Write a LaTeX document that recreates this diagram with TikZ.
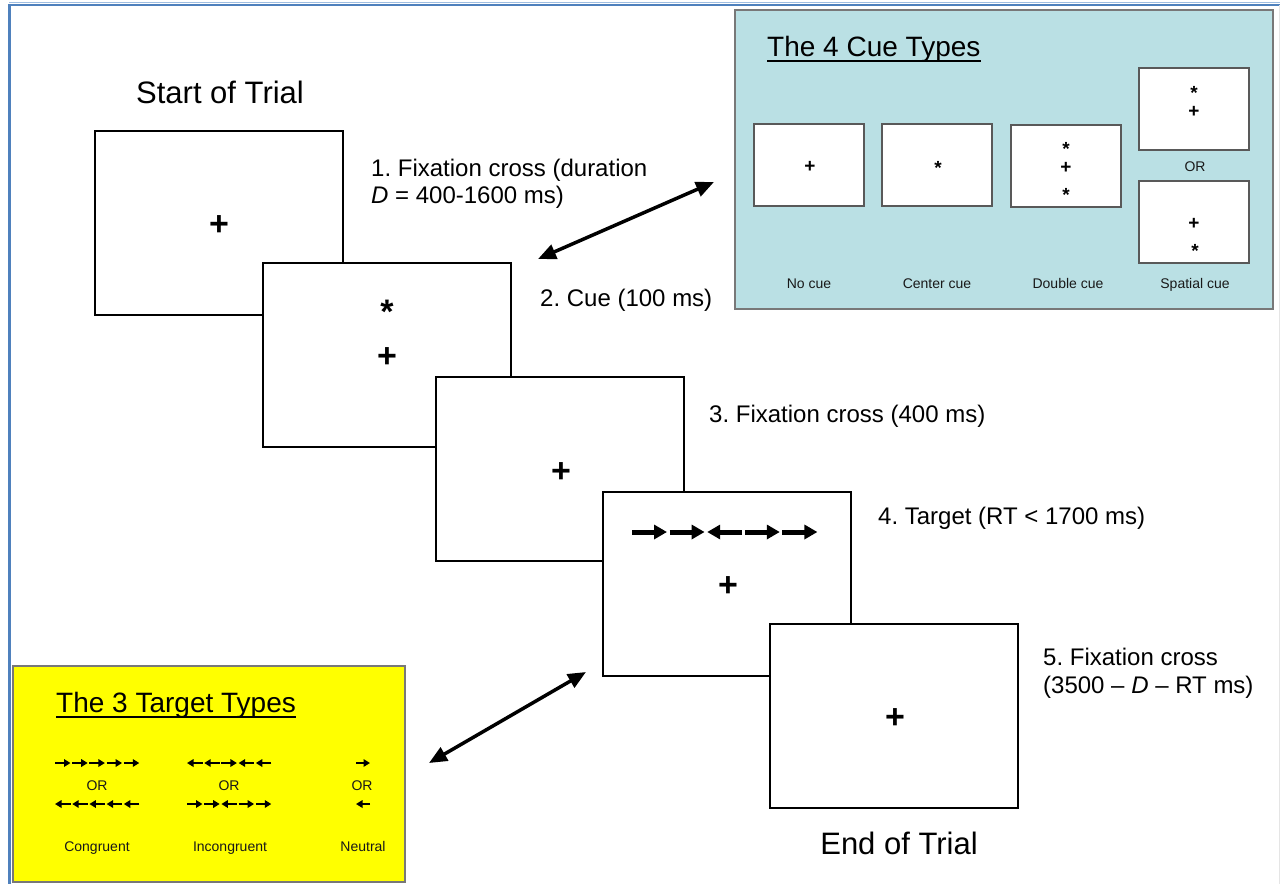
\documentclass[tikz,border=0pt]{standalone}
\usepackage{fontspec}
\setmainfont{Liberation Sans}
\usetikzlibrary{arrows.meta}
\frenchspacing
\definecolor{cuebg}{RGB}{186,224,228}
\definecolor{tgtbg}{RGB}{255,255,0}
\definecolor{panelborder}{RGB}{120,120,120}
\definecolor{frameblue}{RGB}{79,129,189}
\definecolor{frameblue2}{RGB}{160,190,225}
\newcommand\flankrow[6]{%
  \foreach \d [count=\i] in {#6} {%
    \draw[#5] ({#1+(\i-1)*#3+#4/2-\d*#4/2},#2) -- ({#1+(\i-1)*#3+#4/2+\d*#4/2},#2);}}
\begin{document}
\begin{tikzpicture}[x=1pt,y=-1pt,
  screen/.style={draw=black, line width=2.5pt, fill=white, minimum width=248pt, minimum height=184pt, inner sep=0pt},
  minibox/.style={draw=gray!70!black, line width=1.3pt, fill=white, minimum width=110pt, minimum height=82pt, inner sep=0pt},
  bigglyph/.style={anchor=base, inner sep=0pt, font=\fontsize{34}{40}\selectfont\bfseries},
  smallglyph/.style={anchor=base, inner sep=0pt, font=\fontsize{19}{22}\selectfont\bfseries},
  steptxt/.style={anchor=base west, inner sep=0pt, font=\fontsize{24}{28}\selectfont},
  headtxt/.style={anchor=base, inner sep=0pt, font=\fontsize{31}{36}\selectfont},
  titletxt/.style={anchor=base west, inner sep=0pt},
  smalltxt/.style={anchor=base, inner sep=0pt, font=\fontsize{14}{16}\selectfont, text=black!90},
  dbl/.style={line width=3.5pt, {Triangle[length=18pt,width=15pt]}-{Triangle[length=18pt,width=15pt]}},
  bigarr/.style={line width=5pt, -{Triangle[length=13pt,width=14pt]}},
  smallarr/.style={line width=2.2pt, -{Triangle[length=6.5pt,width=7.5pt]}}
]
\useasboundingbox (0,0) rectangle (1280,884);
\fill[white] (0,0) rectangle (1280,884);
% frame
\draw[frameblue2, line width=1pt] (9,2.5) -- (1280,2.5);
\draw[frameblue, line width=2.5pt] (8,5) -- (1280,5);
\draw[frameblue, line width=3pt] (9.5,5) -- (9.5,884);
\draw[gray!20, line width=1pt] (1279,5) -- (1279,884);

% screens
\node[screen] (s1) at (219,223) {};
\node[bigglyph] (s1p) at (219,235) {+};
\node[screen] (s2) at (387,355) {};
\node[bigglyph] (s2a) at (387,323) {*};
\node[bigglyph] (s2p) at (387,367) {+};
\node[screen] (s3) at (560,469) {};
\node[bigglyph] (s3p) at (561,482) {+};
\node[screen] (s4) at (727,584) {};
\flankrow{632}{532}{37.6}{35}{bigarr}{1,1,-1,1,1}
\node[bigglyph] (s4p) at (728,596) {+};
\node[screen] (s5) at (894,716) {};
\node[bigglyph] (s5p) at (895,728) {+};

% headings
\node[headtxt] (start) at (220,103) {Start of Trial};
\node[headtxt] (end) at (899,854) {End of Trial};

% step labels
\node[steptxt] (l1a) at (371,176) {1. Fixation cross (duration};
\node[steptxt] (l1b) at (371,203) {\textit{D} = 400-1600 ms)};
\node[steptxt] (l2) at (540,306) {2. Cue (100 ms)};
\node[steptxt] (l3) at (709,422) {3. Fixation cross (400 ms)};
\node[steptxt] (l4) at (878,524) {4. Target (RT < 1700 ms)};
\node[steptxt] (l5a) at (1043,665) {5. Fixation cross};
\node[steptxt] (l5b) at (1043,693) {(3500 -- \textit{D} -- RT ms)};

% cue panel
\node[draw=panelborder, line width=2pt, fill=cuebg, minimum width=538pt, minimum height=299pt, inner sep=0pt] (cuepanel) at (1004,159.5) {};
\node[titletxt, font=\fontsize{28}{32}\selectfont] (cuetitle) at (767,56) {The 4 Cue Types};
\draw[line width=1.8pt] ([yshift=-5pt]cuetitle.base west) -- ([yshift=-5pt]cuetitle.base east);
\node[minibox] (nb) at (809,165) {};
\node[smallglyph] (nbp) at (810,172) {+};
\node[minibox] (cb) at (937,165) {};
\node[smallglyph] (cba) at (938,174) {*};
\node[minibox] (db) at (1066,166) {};
\node[smallglyph] (dba) at (1066,155) {*};
\node[smallglyph] (dbp) at (1066,173) {+};
\node[smallglyph] (dbb) at (1066,201) {*};
\node[minibox] (st) at (1194,109) {};
\node[smallglyph] (sta) at (1194,99) {*};
\node[smallglyph] (stp) at (1194,117) {+};
\node[smalltxt] (sor) at (1195,171) {OR};
\node[minibox] (sb) at (1194,222) {};
\node[smallglyph] (sbp) at (1194,229) {+};
\node[smallglyph] (sba) at (1195,257) {*};
\node[smalltxt] (nbl) at (809,288) {No cue};
\node[smalltxt] (cbl) at (937,288) {Center cue};
\node[smalltxt] (dbl) at (1068,288) {Double cue};
\node[smalltxt] (sbl) at (1195,288) {Spatial cue};

% target panel
\node[draw=panelborder, line width=2pt, fill=tgtbg, minimum width=392pt, minimum height=216pt, inner sep=0pt] (tgtpanel) at (209,774) {};
\node[titletxt, font=\fontsize{28}{32}\selectfont] (tgttitle) at (56,712) {The 3 Target Types};
\draw[line width=1.8pt] ([yshift=-5pt]tgttitle.base west) -- ([yshift=-5pt]tgttitle.base east);
\flankrow{55}{763}{17.2}{15.5}{smallarr}{1,1,1,1,1}
\flankrow{55}{804}{17.2}{15.5}{smallarr}{-1,-1,-1,-1,-1}
\flankrow{187}{763}{17.2}{15.5}{smallarr}{-1,-1,1,-1,-1}
\flankrow{187}{804}{17.2}{15.5}{smallarr}{1,1,-1,1,1}
\flankrow{356}{763}{0}{14}{smallarr}{1}
\flankrow{356}{804}{0}{14}{smallarr}{-1}
\node[smalltxt] (cor) at (97,790) {OR};
\node[smalltxt] (ior) at (229,790) {OR};
\node[smalltxt] (nor) at (362,790) {OR};
\node[smalltxt] (congl) at (97,851) {Congruent};
\node[smalltxt] (incl) at (230,851) {Incongruent};
\node[smalltxt] (neul) at (363,851) {Neutral};

% connectors
\coordinate (a1s) at (538,259);
\coordinate (a1e) at (714,182);
\draw[dbl] (a1s) -- (a1e);
\coordinate (a2s) at (429,763);
\coordinate (a2e) at (586,672);
\draw[dbl] (a2s) -- (a2e);
\end{tikzpicture}
\end{document}
